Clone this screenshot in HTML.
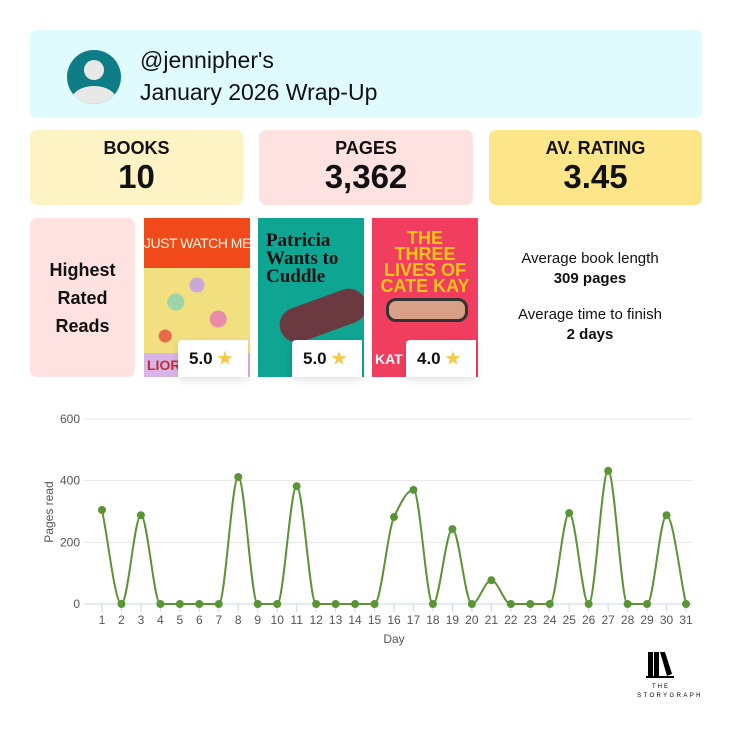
<!DOCTYPE html>
<html><head><meta charset="utf-8"><style>
*{box-sizing:border-box;margin:0;padding:0}
body{width:732px;height:729px;background:#fff;font-family:"Liberation Sans",sans-serif;position:relative;overflow:hidden;color:#111}
.abs{position:absolute}
.box{position:absolute;border-radius:7px}
.stat{top:130px;height:75px;text-align:center}
.stat .l{font-weight:bold;font-size:18px;margin-top:8px}
.stat .v{font-weight:bold;font-size:33px;line-height:36px}
.cover{position:absolute;top:218px;width:106px;height:159px;overflow:hidden}
.badge{position:absolute;top:340px;width:70px;height:37px;background:#fff;border-radius:4px 0 0 0;font-weight:bold;font-size:17px;line-height:37px;padding-left:11px;box-shadow:0 3px 8px rgba(0,0,0,.12)}
.badge span{color:#f7c948;font-size:17px}
</style></head><body>
<div class="box" style="left:30px;top:30px;width:672px;height:88px;background:#dffbfe">
  <svg class="abs" style="left:37px;top:20px" width="54" height="54">
    <defs><clipPath id="c"><circle cx="27" cy="27" r="27"/></clipPath></defs>
    <circle cx="27" cy="27" r="27" fill="#0f7d86"/>
    <g clip-path="url(#c)" fill="#e8e8e8"><circle cx="27" cy="20" r="10"/><ellipse cx="27" cy="51" rx="23" ry="15"/></g>
  </svg>
  <div class="abs" style="left:110px;top:17px;font-size:23px">@jennipher's</div>
  <div class="abs" style="left:110px;top:49px;font-size:23px">January 2026 Wrap-Up</div>
</div>
<div class="box stat" style="left:30px;width:213px;background:#fef3c4"><div class="l">BOOKS</div><div class="v">10</div></div>
<div class="box stat" style="left:259px;width:214px;background:#fee2e2"><div class="l">PAGES</div><div class="v">3,362</div></div>
<div class="box stat" style="left:489px;width:213px;background:#fde68a"><div class="l">AV. RATING</div><div class="v">3.45</div></div>
<div class="box" style="left:30px;top:218px;width:105px;height:159px;background:#fee2e2;text-align:center;font-weight:bold;font-size:18px;line-height:28px;padding-top:38px">Highest<br>Rated<br>Reads</div>
<div class="cover" style="left:144px;background:#f7e27a">
  <div style="height:50px;background:#f04a1a;color:#fff4e0;font-size:14px;line-height:50px;text-align:center;letter-spacing:-0.5px;white-space:nowrap">JUST WATCH ME</div>
  <div style="height:85px;background:radial-gradient(circle at 30% 40%,#9fd3a8 0 8px,transparent 9px),radial-gradient(circle at 70% 60%,#e98aa6 0 8px,transparent 9px),radial-gradient(circle at 50% 20%,#c9a7d8 0 7px,transparent 8px),radial-gradient(circle at 20% 80%,#e96a4a 0 6px,transparent 7px),#f2df80"></div>
  <div style="height:24px;background:#d9b4e8;color:#b33;font-weight:bold;font-size:14px;padding-left:3px;line-height:24px">LIOR</div>
</div>
<div class="badge" style="left:178px">5.0 <span>★</span></div>
<div class="cover" style="left:258px;background:#0ea593">
  <div style="font-family:'Liberation Serif',serif;font-weight:bold;font-size:19px;line-height:18px;padding:14px 0 0 8px;color:#111">Patricia<br>Wants to<br>Cuddle</div>
  <div style="position:absolute;left:20px;top:80px;width:90px;height:35px;background:#6b3a40;border-radius:20px;transform:rotate(-20deg)"></div>
</div>
<div class="badge" style="left:292px">5.0 <span>★</span></div>
<div class="cover" style="left:372px;background:#f23e5e">
  <div style="color:#f5c518;font-weight:bold;font-size:18px;line-height:16px;text-align:center;padding-top:12px">THE<br>THREE<br>LIVES OF<br>CATE KAY</div>
  <div style="position:absolute;left:14px;top:80px;width:82px;height:24px;background:#d9a088;border:3px solid #333;border-radius:10px"></div>
  <div style="position:absolute;left:3px;top:133px;color:#fff;font-weight:bold;font-size:14px">KAT</div>
</div>
<div class="badge" style="left:406px">4.0 <span>★</span></div>
<div class="abs" style="left:490px;top:249px;width:200px;text-align:center;font-size:15px;line-height:20px">Average book length<br><b>309 pages</b></div>
<div class="abs" style="left:490px;top:305px;width:200px;text-align:center;font-size:15px;line-height:20px">Average time to finish<br><b>2 days</b></div>

<svg id="chart" class="abs" style="left:0;top:400px" width="732" height="260"></svg>

<svg class="abs" style="left:630px;top:650px" width="90" height="50">
  <rect x="18" y="2" width="5" height="24" fill="#000"/><rect x="24" y="2" width="5" height="24" fill="#000"/><polygon points="30,2 35,2 42,24 37,26" fill="#000"/><rect x="16" y="26" width="28" height="2" fill="#000"/>
  <text x="31" y="38" font-size="6" text-anchor="middle" letter-spacing="2" font-family="Liberation Sans">THE</text>
  <text x="40" y="47" font-size="6" text-anchor="middle" letter-spacing="2.4" font-family="Liberation Sans">STORYGRAPH</text>
</svg>

<script>
const days=[1,2,3,4,5,6,7,8,9,10,11,12,13,14,15,16,17,18,19,20,21,22,23,24,25,26,27,28,29,30,31];
const pages=[305,0,288,0,0,0,0,412,0,0,382,0,0,0,0,282,370,0,243,0,77,0,0,0,295,0,432,0,0,288,0];
const yTicks=[0,200,400,600];
const svg=document.getElementById('chart');
const NS='http://www.w3.org/2000/svg';
const x=d=>102+(d-1)*(584/30);
const y=v=>204-v*(185/600);
function mk(t,a){const e=document.createElementNS(NS,t);for(const k in a)e.setAttribute(k,a[k]);svg.appendChild(e);return e;}
yTicks.forEach(t=>{
  const g=mk('line',{x1:84,x2:692,y1:y(t),y2:y(t),stroke:t===0?'#c9d6ea':'#e6e6e6','stroke-width':1});
  
  
  const tx=mk('text',{x:80,y:y(t)+4,'text-anchor':'end','font-size':12,fill:'#555','font-family':'Liberation Sans'});
  tx.textContent=t;
  
  
});
days.forEach(d=>{
  const tk=mk('line',{x1:x(d),x2:x(d),y1:204,y2:212,stroke:'#c9d6ea'});
  
  
  const tx=mk('text',{x:x(d),y:224,'text-anchor':'middle','font-size':12,fill:'#555','font-family':'Liberation Sans'});
  tx.textContent=d;
  
  
});
const xt=mk('text',{x:394,y:243,'text-anchor':'middle','font-size':12,fill:'#555','font-family':'Liberation Sans'});
xt.textContent='Day';


const yt=mk('text',{x:0,y:0,'text-anchor':'middle','font-size':12,fill:'#555','font-family':'Liberation Sans',transform:'translate(53,112) rotate(-90)'});
yt.textContent='Pages read';


// monotone cubic interpolation
const P=days.map((d,i)=>[x(d),y(pages[i])]);
const n=P.length, dx=[], m=[], t=[];
for(let i=0;i<n-1;i++){dx[i]=P[i+1][0]-P[i][0];m[i]=(P[i+1][1]-P[i][1])/dx[i];}
t[0]=m[0];t[n-1]=m[n-2];
for(let i=1;i<n-1;i++){
  if(m[i-1]*m[i]<=0)t[i]=0;
  else{const w1=2*dx[i]+dx[i-1],w2=dx[i]+2*dx[i-1];t[i]=(w1+w2)/(w1/m[i-1]+w2/m[i]);}
}
let p='M'+P[0][0]+','+P[0][1];
for(let i=0;i<n-1;i++){
  const h=dx[i]/3;
  p+=' C'+(P[i][0]+h)+','+(P[i][1]+t[i]*h)+' '+(P[i+1][0]-h)+','+(P[i+1][1]-t[i+1]*h)+' '+P[i+1][0]+','+P[i+1][1];
}
const ln=mk('path',{d:p,fill:'none',stroke:'#5a9435','stroke-width':2});


P.forEach(q=>{
  const c=mk('circle',{cx:q[0],cy:q[1],r:4,fill:'#5a9435'});
  
  
});
</script>
</body></html>
